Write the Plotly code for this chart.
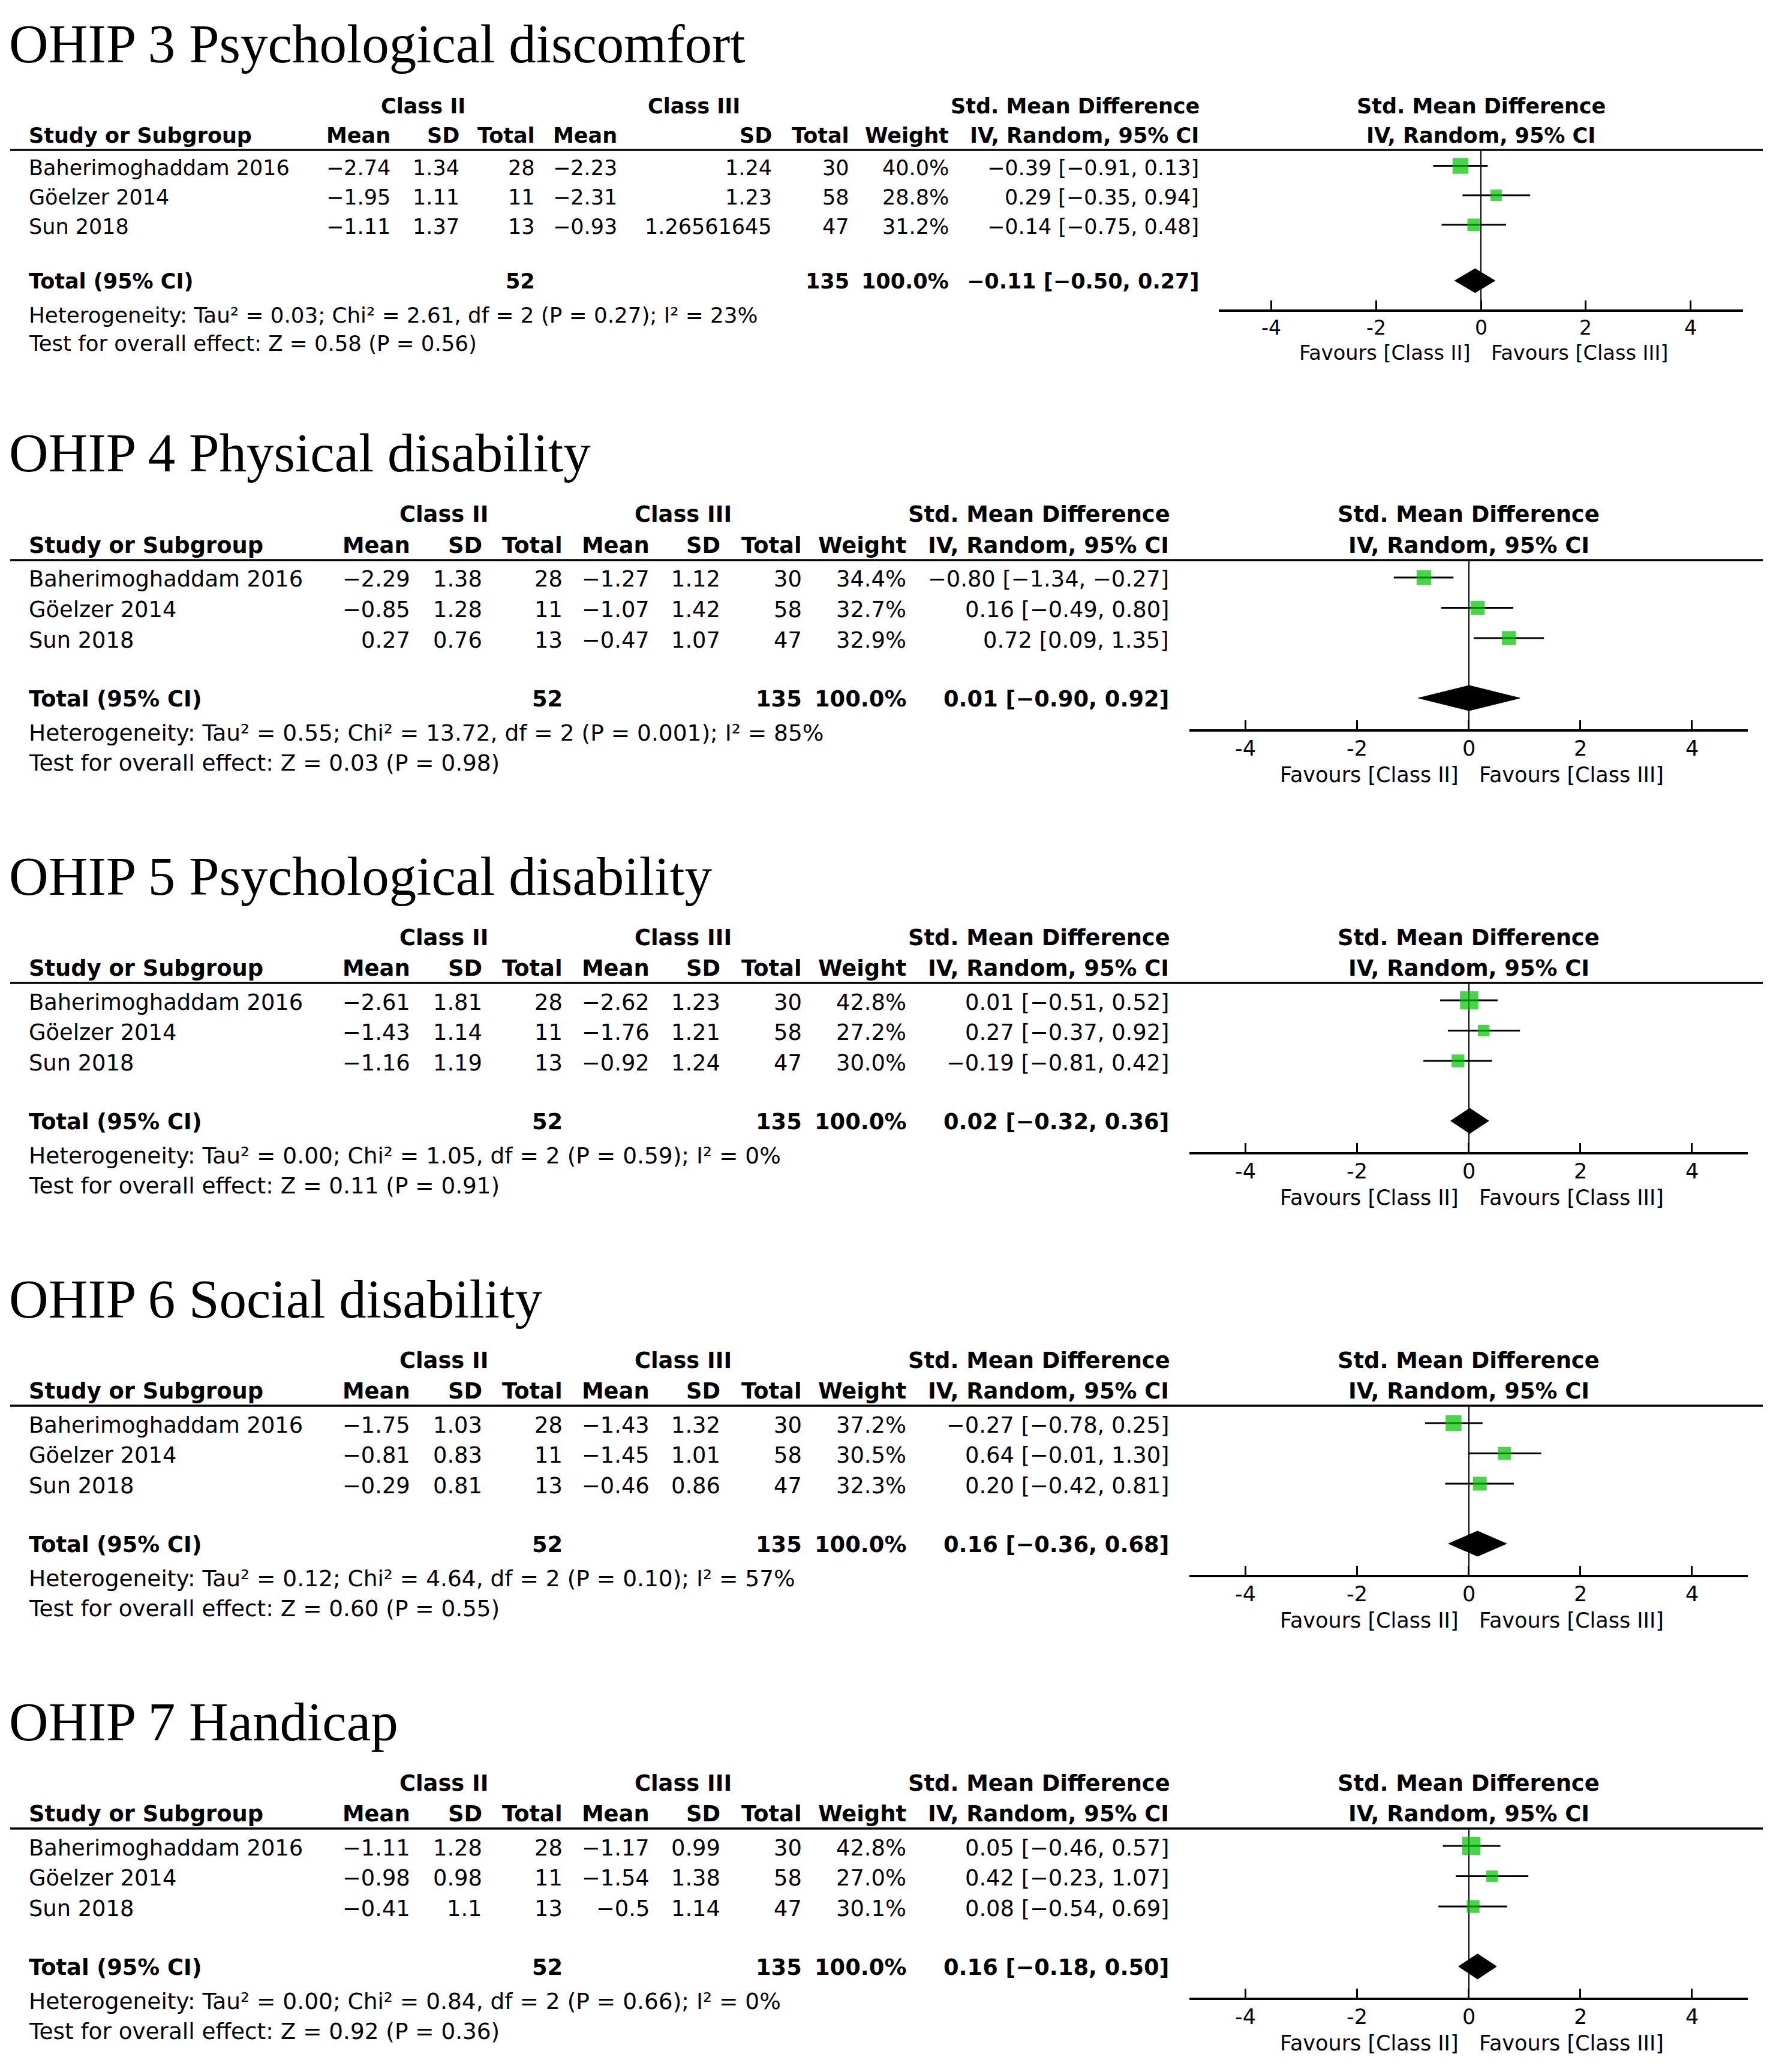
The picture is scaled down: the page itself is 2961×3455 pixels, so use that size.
import plotly.graph_objects as go

W, H = 2961, 3455

# ---------------- data ----------------
OUTCOMES = ["OHIP 3 Psychological discomfort", "OHIP 4 Physical disability",
            "OHIP 5 Psychological disability", "OHIP 6 Social disability",
            "OHIP 7 Handicap"]
STUDIES = ["Baherimoghaddam 2016", "Göelzer 2014", "Sun 2018"]
N_II = [28, 11, 13]
N_III = [30, 58, 47]
MEAN_II = [[-2.74, -1.95, -1.11], [-2.29, -0.85, 0.27], [-2.61, -1.43, -1.16],
           [-1.75, -0.81, -0.29], [-1.11, -0.98, -0.41]]
SD_II = [[1.34, 1.11, 1.37], [1.38, 1.28, 0.76], [1.81, 1.14, 1.19],
         [1.03, 0.83, 0.81], [1.28, 0.98, 1.1]]
MEAN_III = [[-2.23, -2.31, -0.93], [-1.27, -1.07, -0.47], [-2.62, -1.76, -0.92],
            [-1.43, -1.45, -0.46], [-1.17, -1.54, -0.5]]
SD_III = [[1.24, 1.23, 1.26561645], [1.12, 1.42, 1.07], [1.23, 1.21, 1.24],
          [1.32, 1.01, 0.86], [0.99, 1.38, 1.14]]
WEIGHT = [[40.0, 28.8, 31.2], [34.4, 32.7, 32.9], [42.8, 27.2, 30.0],
          [37.2, 30.5, 32.3], [42.8, 27.0, 30.1]]
TOT_WEIGHT = [100.0, 100.0, 100.0, 100.0, 100.0]
SMD = [[-0.39, 0.29, -0.14], [-0.80, 0.16, 0.72], [0.01, 0.27, -0.19],
       [-0.27, 0.64, 0.20], [0.05, 0.42, 0.08]]
CI_LO = [[-0.91, -0.35, -0.75], [-1.34, -0.49, 0.09], [-0.51, -0.37, -0.81],
         [-0.78, -0.01, -0.42], [-0.46, -0.23, -0.54]]
CI_HI = [[0.13, 0.94, 0.48], [-0.27, 0.80, 1.35], [0.52, 0.92, 0.42],
         [0.25, 1.30, 0.81], [0.57, 1.07, 0.69]]
TOT_SMD = [-0.11, 0.01, 0.02, 0.16, 0.16]
TOT_LO = [-0.50, -0.90, -0.32, -0.36, -0.18]
TOT_HI = [0.27, 0.92, 0.36, 0.68, 0.50]
HET_TAU2 = [0.03, 0.55, 0.00, 0.12, 0.00]
HET_CHI2 = [2.61, 13.72, 1.05, 4.64, 0.84]
HET_DF = [2, 2, 2, 2, 2]
HET_P = ["0.27", "0.001", "0.59", "0.10", "0.66"]
HET_I2 = [23, 85, 0, 57, 0]
Z_VAL = [0.58, 0.03, 0.11, 0.60, 0.92]
Z_P = ["0.56", "0.98", "0.91", "0.55", "0.36"]
TICK_VALS = [-4, -2, 0, 2, 4]
TICK_LABELS = ["-4", "-2", "0", "2", "4"]

# ---------------- layout (pixel positions) ----------------
SANS = "DejaVu Sans"
SERIF = "Liberation Serif"


def base_layout(dy):
    return dict(title_y=756 + dy, group_y=858 + dy, hdr_y=909 + dy, rule_y=934 + dy,
                row0=966 + dy, gap=50.5, total_y=1165 + dy, het_y=1222 + dy,
                test_y=1272 + dy, axis_y=1216 + dy, tick_y=1248 + dy, fav_y=1292 + dy,
                cols=[684, 804, 938, 1083, 1201, 1337, 1511, 1949],
                grp=[740, 1139, 1732], plot=[1983, 2914], font=36.8,
                fav_font=35, tick_font=35, sq=0.71, dh=21)


LAYOUTS = [dict(title_y=74, group_y=177, hdr_y=226, rule_y=250, row0=279.5, gap=49.15,
                total_y=469, het_y=525, test_y=572, axis_y=515.5, tick_y=546, fav_y=588,
                cols=[651, 766, 892, 1029, 1287, 1416, 1582, 1999],
                grp=[705, 1157, 1792], plot=[2032, 2906], font=35,
                fav_font=33.6, tick_font=33, sq=0.66, dh=20)]
for k in range(1, 5):
    LAYOUTS.append(base_layout(705 * (k - 1)))

NAME_X = 48


def fmt(v):
    return str(v).replace("-", "\u2212")


def f2(v):
    return ("%.2f" % v).replace("-", "\u2212")


def ann(text, x, y, anchor="left", size=36.8, bold=False, family=SANS, xref="paper"):
    return dict(text=("<b>" + text + "</b>") if bold else text,
                x=(x / W) if xref == "paper" else x, y=1 - y / H,
                xref=xref, yref="paper", xanchor=anchor, yanchor="middle",
                showarrow=False, borderpad=0, borderwidth=0,
                font=dict(family=family, size=size, color="black"))


fig = go.Figure()
annotations = []
shapes = []
layout_axes = {}

for k in range(5):
    L = LAYOUTS[k]
    sfx = "" if k == 0 else str(k + 1)
    xa, ya = "x" + sfx, "y" + sfx
    fs = L["font"]
    c = L["cols"]

    # axes
    layout_axes["xaxis" + sfx] = dict(
        domain=[L["plot"][0] / W, L["plot"][1] / W], range=[-5, 5], anchor=ya,
        showline=True, linecolor="black", linewidth=3.5,
        ticks="inside", ticklen=15, tickwidth=2.5, tickcolor="black",
        tickvals=TICK_VALS, showticklabels=False,
        showgrid=False, zeroline=True, zerolinecolor="black", zerolinewidth=2,
        fixedrange=True)
    layout_axes["yaxis" + sfx] = dict(
        domain=[1 - L["axis_y"] / H, 1 - L["rule_y"] / H],
        range=[L["axis_y"], L["rule_y"]], anchor=xa, visible=False,
        showgrid=False, zeroline=False, fixedrange=True)

    rows = [L["row0"] + i * L["gap"] for i in range(len(STUDIES))]

    # CI lines
    cx, cy = [], []
    for i in range(len(STUDIES)):
        cx += [CI_LO[k][i], CI_HI[k][i], None]
        cy += [rows[i] - 3, rows[i] - 3, None]
    fig.add_trace(go.Scatter(x=cx, y=cy, mode="lines", xaxis=xa, yaxis=ya,
                             line=dict(color="black", width=3), hoverinfo="skip"))
    # squares
    fig.add_trace(go.Scatter(x=SMD[k], y=[r - 3 for r in rows], mode="markers",
                             xaxis=xa, yaxis=ya,
                             marker=dict(symbol="square", color="#00c000",
                                         size=[w * L["sq"] for w in WEIGHT[k]],
                                         line=dict(width=0))))
    # diamond
    ty = L["total_y"] - 1
    fig.add_trace(go.Scatter(x=[TOT_LO[k], TOT_SMD[k], TOT_HI[k], TOT_SMD[k], TOT_LO[k]],
                             y=[ty, ty - L["dh"], ty, ty + L["dh"], ty],
                             mode="lines", fill="toself", fillcolor="black",
                             line=dict(color="black", width=1), xaxis=xa, yaxis=ya))

    # header rule
    shapes.append(dict(type="line", xref="paper", yref="paper", x0=17 / W, x1=2939 / W,
                       y0=1 - L["rule_y"] / H, y1=1 - L["rule_y"] / H,
                       line=dict(color="black", width=3.5)))

    # title
    annotations.append(ann(OUTCOMES[k], 15, L["title_y"], size=91, family=SERIF))

    # group headers
    annotations.append(ann("Class II", L["grp"][0], L["group_y"], "center", fs, True))
    annotations.append(ann("Class III", L["grp"][1], L["group_y"], "center", fs, True))
    annotations.append(ann("Std. Mean Difference", L["grp"][2], L["group_y"], "center", fs, True))
    annotations.append(ann("Std. Mean Difference", 0, L["group_y"], "center", fs, True, xref=xa))
    # column headers
    annotations.append(ann("Study or Subgroup", NAME_X, L["hdr_y"], "left", fs, True))
    for txt, xx in zip(["Mean", "SD", "Total", "Mean", "SD", "Total", "Weight",
                        "IV, Random, 95% CI"], c):
        annotations.append(ann(txt, xx, L["hdr_y"], "right", fs, True))
    annotations.append(ann("IV, Random, 95% CI", 0, L["hdr_y"], "center", fs, True, xref=xa))

    # study rows
    for i, name in enumerate(STUDIES):
        y = rows[i]
        annotations.append(ann(name, NAME_X, y, "left", fs))
        vals = [fmt(MEAN_II[k][i]), fmt(SD_II[k][i]), str(N_II[i]),
                fmt(MEAN_III[k][i]), fmt(SD_III[k][i]), str(N_III[i]),
                "%.1f%%" % WEIGHT[k][i],
                "%s [%s, %s]" % (f2(SMD[k][i]), f2(CI_LO[k][i]), f2(CI_HI[k][i]))]
        for v, xx in zip(vals, c):
            annotations.append(ann(v, xx, y, "right", fs))

    # total row
    ty_t = L["total_y"]
    annotations.append(ann("Total (95% CI)", NAME_X, ty_t, "left", fs, True))
    annotations.append(ann(str(sum(N_II)), c[2], ty_t, "right", fs, True))
    annotations.append(ann(str(sum(N_III)), c[5], ty_t, "right", fs, True))
    annotations.append(ann("%.1f%%" % TOT_WEIGHT[k], c[6], ty_t, "right", fs, True))
    annotations.append(ann("%s [%s, %s]" % (f2(TOT_SMD[k]), f2(TOT_LO[k]), f2(TOT_HI[k])),
                           c[7], ty_t, "right", fs, True))

    # heterogeneity / overall effect
    het = ("Heterogeneity: Tau\u00b2 = %.2f; Chi\u00b2 = %.2f, df = %d (P = %s); "
           "I\u00b2 = %d%%" % (HET_TAU2[k], HET_CHI2[k], HET_DF[k], HET_P[k], HET_I2[k]))
    annotations.append(ann(het, NAME_X, L["het_y"], "left", fs * 1.02))
    annotations.append(ann("Test for overall effect: Z = %.2f (P = %s)" % (Z_VAL[k], Z_P[k]),
                           NAME_X, L["test_y"], "left", fs * 1.015))

    # tick labels (placed on the axis scale)
    for v, lab in zip(TICK_VALS, TICK_LABELS):
        annotations.append(ann(lab, v, L["tick_y"], "center", L["tick_font"], xref=xa))

    # favours labels
    a1 = ann("Favours [Class II]", 0, L["fav_y"], "right", L["fav_font"], xref=xa)
    a1["xshift"] = -17
    a2 = ann("Favours [Class III]", 0, L["fav_y"], "left", L["fav_font"], xref=xa)
    a2["xshift"] = 17
    annotations += [a1, a2]

fig.update_layout(width=W, height=H, margin=dict(l=0, r=0, t=0, b=0),
                  paper_bgcolor="white", plot_bgcolor="rgba(0,0,0,0)",
                  showlegend=False, annotations=annotations, shapes=shapes,
                  **layout_axes)

fig.write_html("out.html",
               config={"displayModeBar": False},
               post_script="document.body.style.margin='0';"
                           "document.body.style.padding='0';"
                           "document.documentElement.style.overflow='hidden';")
